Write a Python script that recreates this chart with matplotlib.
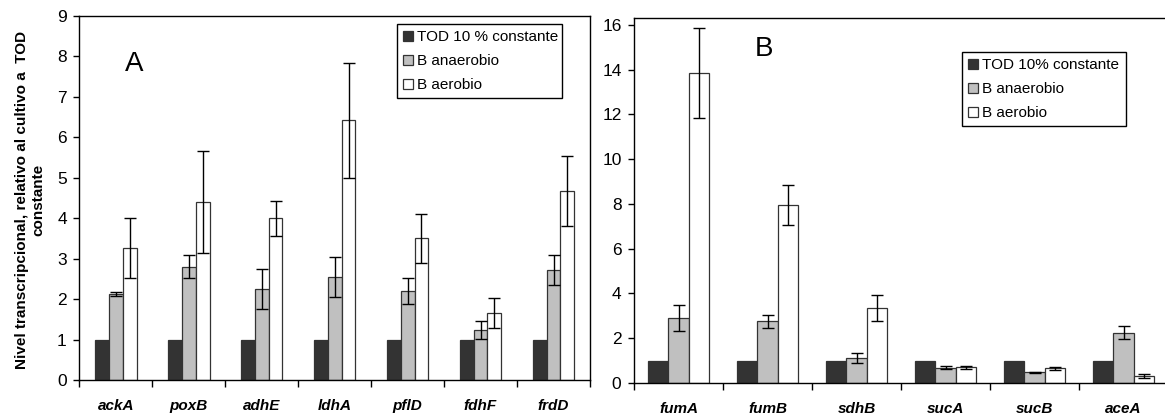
import matplotlib
matplotlib.use("Agg")
import matplotlib.pyplot as plt
import numpy as np

plt.rcParams["font.family"] = ["Liberation Sans", "DejaVu Sans"]

# panel A
genes_a = ["ackA", "poxB", "adhE", "ldhA", "pflD", "fdhF", "frdD"]
ctrl_a = [1, 1, 1, 1, 1, 1, 1]
anaer_a = [2.12, 2.8, 2.25, 2.55, 2.2, 1.24, 2.72]
anaer_a_err = [0.05, 0.29, 0.5, 0.5, 0.33, 0.22, 0.38]
aer_a = [3.27, 4.4, 4.0, 6.42, 3.5, 1.65, 4.68]
aer_a_err = [0.74, 1.25, 0.43, 1.43, 0.61, 0.37, 0.87]

# panel B
genes_b = ["fumA", "fumB", "sdhB", "sucA", "sucB", "aceA"]
ctrl_b = [1, 1, 1, 1, 1, 1]
anaer_b = [2.9, 2.75, 1.1, 0.68, 0.48, 2.25]
anaer_b_err = [0.6, 0.28, 0.22, 0.07, 0.03, 0.3]
aer_b = [13.85, 7.95, 3.35, 0.7, 0.65, 0.32]
aer_b_err = [2.0, 0.91, 0.57, 0.08, 0.05, 0.08]

W, H = 1165, 417
fig = plt.figure(figsize=(W / 100, H / 100), dpi=100)

EDGE = "#333333"
COLS = ["#333333", "#c0c0c0", "#ffffff"]


def panel(rect, genes, ctrl, anaer, anaer_err, aer, aer_err, ymax, yticks,
          bw, letter, letter_xy, labels, leg_rect):
    ax = fig.add_axes([rect[0] / W, 1 - rect[3] / H,
                       (rect[2] - rect[0]) / W, (rect[3] - rect[1]) / H])
    x = np.arange(len(genes))
    ekw = dict(ecolor="black", elinewidth=1.0, capsize=4, capthick=1.0)
    b1 = ax.bar(x - bw, ctrl, bw, color=COLS[0], edgecolor=EDGE, lw=0.9,
                label=labels[0])
    b2 = ax.bar(x, anaer, bw, yerr=anaer_err, color=COLS[1], edgecolor=EDGE,
                lw=0.9, error_kw=ekw, label=labels[1])
    b3 = ax.bar(x + bw, aer, bw, yerr=aer_err, color=COLS[2], edgecolor=EDGE,
                lw=0.9, error_kw=ekw, label=labels[2])

    ax.set_xlim(-0.5, len(genes) - 0.5)
    ax.set_ylim(0, ymax)
    ax.set_yticks(yticks)
    ax.set_xticks(x)
    ax.set_xticklabels(genes, fontsize=11, fontweight="bold", style="italic")
    ax.set_xticks(np.arange(len(genes) + 1) - 0.5, minor=True)
    ax.tick_params(axis="x", which="major", length=0, pad=14)
    ax.tick_params(axis="x", which="minor", length=5, width=1, direction="out")
    ax.tick_params(axis="y", length=4, width=1, pad=5, labelsize=12.5)
    for s in ax.spines.values():
        s.set_linewidth(1.0)
        s.set_color("black")

    ax.text(letter_xy[0] / W, 1 - letter_xy[1] / H, letter, fontsize=20,
            transform=fig.transFigure, ha="left", va="baseline")

    l, t, r, b = leg_rect
    leg = ax.legend(handles=[b1, b2, b3], loc="upper left",
                    bbox_to_anchor=(l / W, 1 - b / H, (r - l) / W, (b - t) / H),
                    bbox_transform=fig.transFigure, mode="expand",
                    fontsize=11, frameon=True, fancybox=False,
                    edgecolor="black", framealpha=1, borderpad=0.4,
                    labelspacing=0.65, handlelength=0.62, handleheight=0.62,
                    handletextpad=0.3, borderaxespad=0)
    leg.get_frame().set_linewidth(1.0)
    return ax


axa = panel((79.3, 16, 590, 380), genes_a, ctrl_a, anaer_a, anaer_a_err,
            aer_a, aer_a_err, 9, range(0, 10), 0.19, "A", (125, 71),
            ["TOD 10 % constante", "B anaerobio", "B aerobio"],
            (397, 24, 562, 105))

axb = panel((634, 18, 1168, 383), genes_b, ctrl_b, anaer_b, anaer_b_err,
            aer_b, aer_b_err, 16.3, range(0, 17, 2), 0.225, "B", (755, 56),
            ["TOD 10% constante", "B anaerobio", "B aerobio"],
            (962, 52, 1126, 138))

fig.text(30 / W, 1 - 200 / H,
         "Nivel transcripcional, relativo al cultivo a  TOD\nconstante",
         rotation=90, ha="center", va="center", multialignment="center",
         fontsize=11, fontweight="bold", linespacing=1.25)

fig.savefig("out.png", dpi=100)
